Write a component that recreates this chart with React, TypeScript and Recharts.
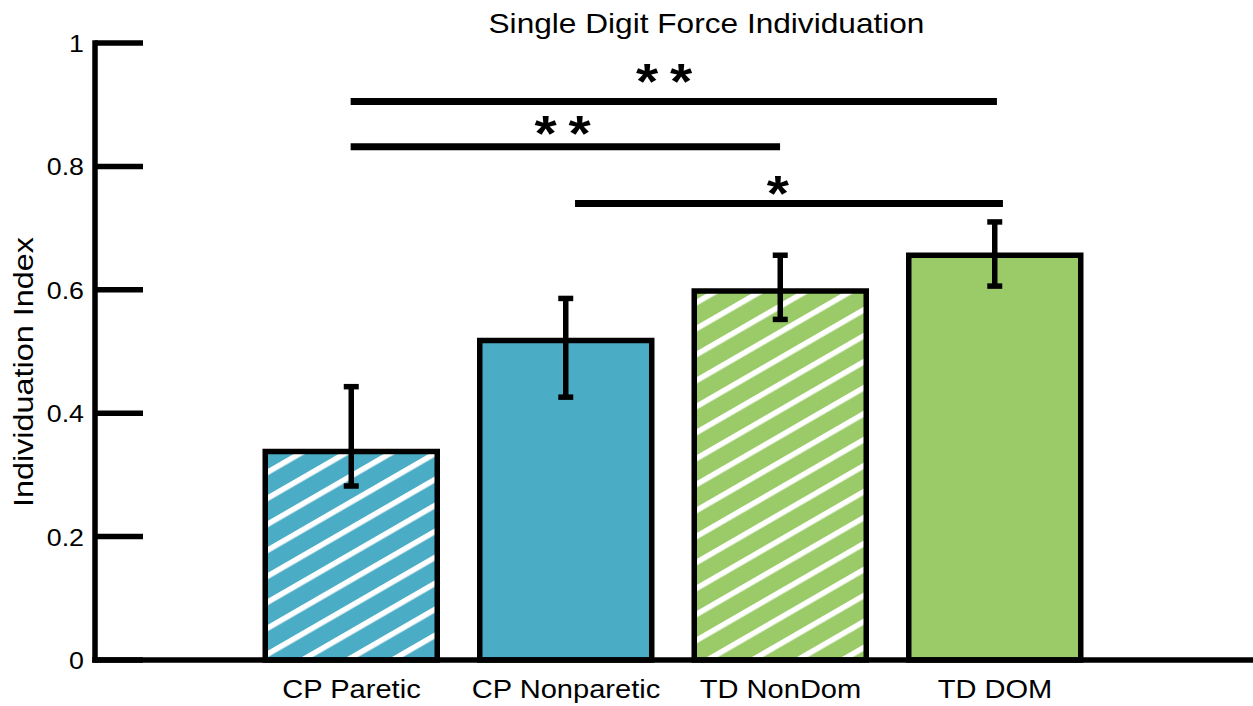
import React from 'react';
import {
  BarChart,
  Bar,
  XAxis,
  YAxis,
  ErrorBar,
  Cell,
  ReferenceLine,
  ReferenceDot,
  Customized,
} from 'recharts';

// ---- data ----
const categories = ['CP Paretic', 'CP Nonparetic', 'TD NonDom', 'TD DOM'];
const means = [0.338, 0.518, 0.598, 0.656];
const lowerBounds = [0.282, 0.426, 0.552, 0.606];
const upperBounds = [0.443, 0.586, 0.656, 0.71];
const hatched = [true, false, true, false];
const groups = ['CP', 'CP', 'TD', 'TD'];

const yTicks = [0, 0.2, 0.4, 0.6, 0.8, 1];
const yTickLabels = ['0', '0.2', '0.4', '0.6', '0.8', '1'];

// significance bars (x in category-position units, y in index units)
const sigLabels = ['**', '**', '*'];
const sigLevels = [0.905, 0.832, 0.74];
const sigFrom = [0.996, 0.996, 2.042];
const sigTo = [4.009, 2.998, 4.037];
const sigStarX = [2.457, 1.984, 2.988];
const sigStarY = [0.946, 0.862, 0.765];

const title = 'Single Digit Force Individuation';
const yLabel = 'Individuation Index';

// ---- styles ----
const FONT = '"Liberation Sans", Arial, Helvetica, sans-serif';
const SX = 1.14;
const BLUE = '#4BACC6';
const GREEN = '#9BCB68';
const LW = 5.5;
const X_DOMAIN: [number, number] = [-0.1958, 5.2028];

const data = categories.map((name, i) => ({
  pos: i + 1,
  name,
  mean: means[i],
  err: [means[i] - lowerBounds[i], upperBounds[i] - means[i]],
}));

const colorOf = (i: number) => (groups[i] === 'CP' ? BLUE : GREEN);

const YTick = (props: any) => {
  const { x, y, payload } = props;
  const axisX = x + 11;
  const idx = yTicks.indexOf(payload.value);
  const label = idx >= 0 ? yTickLabels[idx] : String(payload.value);
  return (
    <g>
      <line x1={axisX} x2={axisX + 48} y1={y} y2={y} stroke="#000" strokeWidth={LW} />
      <text
        transform={`translate(${x},${y + 9}) scale(${SX},1)`}
        textAnchor="end"
        fontSize={23.5}
        fontFamily={FONT}
        fill="#000"
      >
        {label}
      </text>
    </g>
  );
};

const XTick = (props: any) => {
  const { x, y, payload } = props;
  const label = categories[Math.round(payload.value) - 1] ?? '';
  return (
    <text
      transform={`translate(${x},${y + 38}) scale(${SX},1)`}
      textAnchor="middle"
      fontSize={25.5}
      fontFamily={FONT}
      fill="#000"
    >
      {label}
    </text>
  );
};

const Decorations = () => (
  <g>
    <defs>
      <pattern
        id="hatchBlue"
        patternUnits="userSpaceOnUse"
        width={20}
        height={22.5}
        patternTransform="rotate(-30)"
      >
        <rect x={0} y={0} width={20} height={22.5} fill={BLUE} />
        <rect x={0} y={0} width={20} height={5.5} fill="#fff" />
      </pattern>
      <pattern
        id="hatchGreen"
        patternUnits="userSpaceOnUse"
        width={20}
        height={22.5}
        patternTransform="rotate(-30)"
      >
        <rect x={0} y={0} width={20} height={22.5} fill={GREEN} />
        <rect x={0} y={0} width={20} height={5.5} fill="#fff" />
      </pattern>
    </defs>
    <text
      transform={`translate(706.5,33) scale(1.13,1)`}
      textAnchor="middle"
      fontSize={28}
      fontFamily={FONT}
      fill="#000"
    >
      {title}
    </text>
    <text
      transform={`translate(33,372) rotate(-90) scale(1.157,1)`}
      textAnchor="middle"
      fontSize={28}
      fontFamily={FONT}
      fill="#000"
    >
      {yLabel}
    </text>
  </g>
);

const Stars = (label: string) => (p: any) => {
  const { cx, cy } = p;
  const chars = label.split('');
  const n = chars.length;
  return (
    <g>
      {chars.map((c, k) => (
        <text
          key={k}
          transform={`translate(${cx + (k - (n - 1) / 2) * 34},${cy + 23}) scale(${SX},1)`}
          textAnchor="middle"
          fontSize={50}
          fontWeight="bold"
          fontFamily={FONT}
          fill="#000"
        >
          {c}
        </text>
      ))}
    </g>
  );
};

export default function App() {
  return (
    <div style={{ position: 'absolute', left: 0, top: 0, width: 1253, height: 706, background: '#fff' }}>
      <BarChart
        width={1253}
        height={706}
        data={data}
        margin={{ top: 43, right: 0, bottom: 0, left: 0 }}
      >
        <Customized component={Decorations} />
        <XAxis
          dataKey="pos"
          type="number"
          domain={X_DOMAIN}
          allowDataOverflow
          ticks={[1, 2, 3, 4]}
          interval={0}
          height={46}
          tickSize={0}
          tickMargin={0}
          tickLine={false}
          axisLine={{ stroke: '#000', strokeWidth: LW, strokeLinecap: 'square' }}
          tick={<XTick />}
        />
        <YAxis
          type="number"
          domain={[0, 1]}
          ticks={yTicks}
          interval={0}
          width={95}
          tickSize={0}
          tickMargin={11}
          tickLine={false}
          axisLine={{ stroke: '#000', strokeWidth: LW, strokeLinecap: 'square' }}
          tick={<YTick />}
        />
        <Bar
          dataKey="mean"
          barSize={172}
          stroke="#000"
          strokeWidth={LW}
          isAnimationActive={false}
        >
          {data.map((d, i) => (
            <Cell
              key={d.name}
              fill={hatched[i] ? (groups[i] === 'CP' ? 'url(#hatchBlue)' : 'url(#hatchGreen)') : colorOf(i)}
            />
          ))}
          <ErrorBar
            dataKey="err"
            direction="y"
            width={7.5}
            stroke="#000"
            strokeWidth={LW}
            isAnimationActive={false}
          />
        </Bar>
        {sigLabels.map((lab, i) => (
          <ReferenceLine
            key={`l${i}`}
            segment={[
              { x: sigFrom[i], y: sigLevels[i] },
              { x: sigTo[i], y: sigLevels[i] },
            ]}
            stroke="#000"
            strokeWidth={7}
            ifOverflow="visible"
          />
        ))}
        {sigLabels.map((lab, i) => (
          <ReferenceDot
            key={`s${i}`}
            x={sigStarX[i]}
            y={sigStarY[i]}
            r={0}
            ifOverflow="visible"
            shape={Stars(lab)}
          />
        ))}
      </BarChart>
    </div>
  );
}
